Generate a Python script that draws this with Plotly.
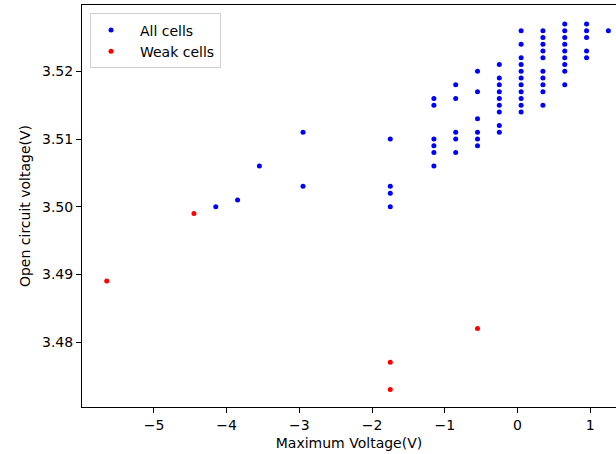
import plotly.graph_objects as go

# All cells: (max voltage, open circuit voltage)
all_x = ([-4.15, -3.85, -3.55, -2.95, -2.95]
         + [-1.75] * 4
         + [-1.15] * 6
         + [-0.85] * 5
         + [-0.55] * 6
         + [-0.25] * 9
         + [0.05] * 11
         + [0.35] * 10
         + [0.65] * 9
         + [0.95] * 5
         + [1.25])
all_y = ([3.500, 3.501, 3.506, 3.511, 3.503]
         + [3.510, 3.503, 3.502, 3.500]
         + [3.516, 3.515, 3.510, 3.509, 3.508, 3.506]
         + [3.518, 3.516, 3.511, 3.510, 3.508]
         + [3.520, 3.517, 3.513, 3.511, 3.510, 3.509]
         + [3.521, 3.519, 3.518, 3.517, 3.516, 3.515, 3.514, 3.512, 3.511]
         + [3.526, 3.524, 3.522, 3.521, 3.520, 3.519, 3.518, 3.517, 3.516, 3.515, 3.514]
         + [3.526, 3.525, 3.524, 3.523, 3.522, 3.520, 3.519, 3.518, 3.517, 3.515]
         + [3.527, 3.526, 3.525, 3.524, 3.523, 3.522, 3.521, 3.520, 3.518]
         + [3.527, 3.526, 3.525, 3.523, 3.522]
         + [3.526])

weak_x = [-5.65, -4.45, -1.75, -1.75, -0.55]
weak_y = [3.489, 3.499, 3.477, 3.473, 3.482]

x_ticks = [-5, -4, -3, -2, -1, 0, 1]
x_tick_text = ["−5", "−4", "−3", "−2", "−1", "0", "1"]
y_ticks = [3.48, 3.49, 3.50, 3.51, 3.52]
y_tick_text = ["3.48", "3.49", "3.50", "3.51", "3.52"]

font = "DejaVu Sans, sans-serif"
pad = "\u00a0\u00a0"

fig = go.Figure()
fig.add_trace(go.Scatter(x=all_x, y=all_y, mode="markers", name=pad + "All cells",
                         marker=dict(color="blue", size=5, line=dict(width=0))))
fig.add_trace(go.Scatter(x=weak_x, y=weak_y, mode="markers", name=pad + "Weak cells",
                         marker=dict(color="red", size=5, line=dict(width=0))))

fig.update_layout(
    width=616, height=454,
    margin=dict(l=82, r=0, t=5, b=47),
    paper_bgcolor="white", plot_bgcolor="white",
    font=dict(family=font, size=14, color="black"),
    showlegend=True,
    legend=dict(x=0.015, y=0.979, xanchor="left", yanchor="top",
                bgcolor="rgba(255,255,255,0.8)", bordercolor="#d0d0d0", borderwidth=1,
                font=dict(family=font, size=14, color="black"),
                tracegroupgap=0, itemwidth=30),
    xaxis=dict(range=[-5.99, 1.355], tickvals=x_ticks, ticktext=x_tick_text,
               showgrid=False, zeroline=False, showline=True, linecolor="black",
               linewidth=1, mirror=True, ticks="outside", ticklen=5, tickcolor="black",
               title=dict(text="Maximum Voltage(V)", font=dict(size=14), standoff=6)),
    yaxis=dict(range=[3.4704, 3.5298], tickvals=y_ticks, ticktext=y_tick_text,
               showgrid=False, zeroline=False, showline=True, linecolor="black",
               linewidth=1, mirror=False, ticks="outside", ticklen=5, tickcolor="black",
               title=dict(text="Open circuit voltage(V)", font=dict(size=14), standoff=8)),
)

fig.write_html("out.html")
